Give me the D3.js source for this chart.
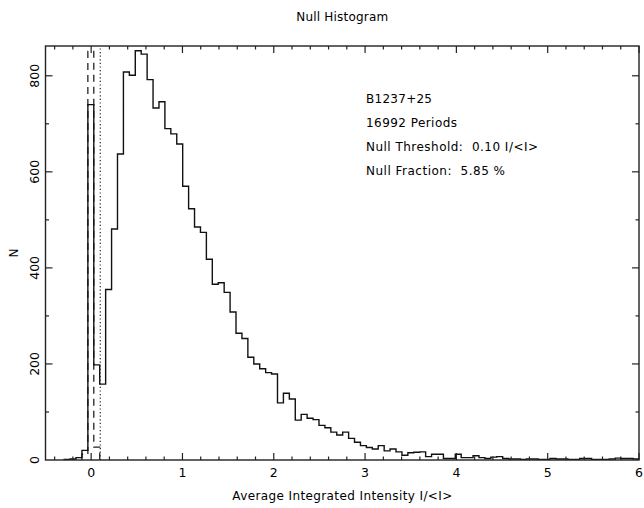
<!DOCTYPE html>
<html><head><meta charset="utf-8">
<script src="https://cdn.jsdelivr.net/npm/d3@7"></script>
<style>body{margin:0;background:#fff}text{font-family:"DejaVu Sans",sans-serif;fill:#000;white-space:pre}</style>
</head><body><svg id="c" width="644" height="508"></svg>
<script>
// ---- data ----
const binStart = -0.2956;
const binWidth = 0.0649;
const onCounts = [1,2,5,20,
 740,198,158,355,481,637,808,801,852,845,792,733,746,690,679,658,570,523,485,474,418,366,369,349,
 308,264,253,214,200,190,182,179,119,139,127,83,95,87,84,72,67,58,52,58,45,37,30,26,23,30,19,23,17,
 10,15,16,17,7,12,12,3,3,12,5,5,9,5,
 3,6,7,3,2,2,1,2,2,1,1,3,2,2,1,1,3,3,1,1,1,2,4,3,3,2];
const offStart = -0.101;
const offCounts = [12,851,27];
const threshold = 0.10;
const xTicks = [0,1,2,3,4,5,6];
const yTicks = [0,200,400,600,800];
const title = "Null Histogram";
const xLabel = "Average Integrated Intensity I/<I>";
const yLabel = "N";
const notes = ["B1237+25","16992 Periods","Null Threshold:  0.10 I/<I>","Null Fraction:  5.85 %"];
const noteWidths = [66,91,172,139];

// ---- chart ----
const svg = d3.select("#c");
svg.append("rect").attr("width",644).attr("height",508).attr("fill","#fff");
const L=45.5,R=639,T=46,B=460;
const x = d3.scaleLinear().domain([-0.5,6]).range([L,R]);
const y = d3.scaleLinear().domain([0,862]).range([B,T]);

function stepPts(start,w,vals){
  const pts=[[start,0]];
  vals.forEach((v,i)=>{pts.push([start+i*w,v]);pts.push([start+(i+1)*w,v]);});
  pts.push([start+vals.length*w,0]);
  return pts;
}
const line = d3.line().x(d=>x(d[0])).y(d=>y(d[1]));
svg.append("clipPath").attr("id","cp").append("rect").attr("x",L).attr("y",T).attr("width",R-L).attr("height",B-T);
const g = svg.append("g").attr("clip-path","url(#cp)");
g.append("path").attr("d",line(stepPts(offStart,binWidth,offCounts))).attr("fill","none")
 .attr("stroke","#222").attr("stroke-width",1.3).attr("stroke-dasharray","7,5");
g.append("path").attr("d",line(stepPts(binStart,binWidth,onCounts))).attr("fill","none")
 .attr("stroke","#111").attr("stroke-width",1.4);
g.append("line").attr("x1",x(threshold)).attr("x2",x(threshold)).attr("y1",y(0)).attr("y2",y(862))
 .attr("stroke","#333").attr("stroke-width",1.3).attr("stroke-dasharray","1.2,2.4");

// frame
svg.append("rect").attr("x",L).attr("y",T).attr("width",R-L).attr("height",B-T)
 .attr("fill","none").attr("stroke","#222").attr("stroke-width",1.4);

// ticks on all sides
const xMinor = d3.range(-0.4,6.0001,0.2).map(v=>+v.toFixed(2));
const yMinor = d3.range(100,862,100);
const tk = svg.append("g").attr("stroke","#222").attr("stroke-width",1.2);
xMinor.forEach(v=>{
  const major = Math.abs(v-Math.round(v))<1e-6;
  const len = major?7:3.5;
  tk.append("line").attr("x1",x(v)).attr("x2",x(v)).attr("y1",B).attr("y2",B-len);
  tk.append("line").attr("x1",x(v)).attr("x2",x(v)).attr("y1",T).attr("y2",T+len);
});
yMinor.forEach(v=>{
  const major = v%200===0;
  const len = major?7:3.5;
  tk.append("line").attr("x1",L).attr("x2",L+len).attr("y1",y(v)).attr("y2",y(v));
  tk.append("line").attr("x1",R).attr("x2",R-len).attr("y1",y(v)).attr("y2",y(v));
});

// tick labels
const fs = 12;
svg.append("g").selectAll("text").data(xTicks).join("text")
 .attr("x",d=>x(d)).attr("y",477).attr("text-anchor","middle").attr("font-size",12.5).text(d=>d);
svg.append("g").selectAll("text").data(yTicks).join("text")
 .attr("transform",d=>`translate(39,${y(d)}) rotate(-90)`).attr("text-anchor","middle").attr("font-size",12.5).text(d=>d);

// titles
svg.append("text").attr("x",(L+R)/2).attr("y",20.5).attr("text-anchor","middle").attr("font-size",fs)
 .attr("textLength",92).attr("lengthAdjust","spacing").text(title);
svg.append("text").attr("x",(L+R)/2).attr("y",500).attr("text-anchor","middle").attr("font-size",fs)
 .attr("textLength",220).attr("lengthAdjust","spacing").text(xLabel);
svg.append("text").attr("transform",`translate(18,${(T+B)/2}) rotate(-90)`).attr("text-anchor","middle").attr("font-size",fs).text(yLabel);

notes.forEach((s,i)=>{
  svg.append("text").attr("x",366).attr("y",103+i*24).attr("font-size",fs)
   .attr("textLength",noteWidths[i]).attr("lengthAdjust","spacing").text(s);
});
</script></body></html>
